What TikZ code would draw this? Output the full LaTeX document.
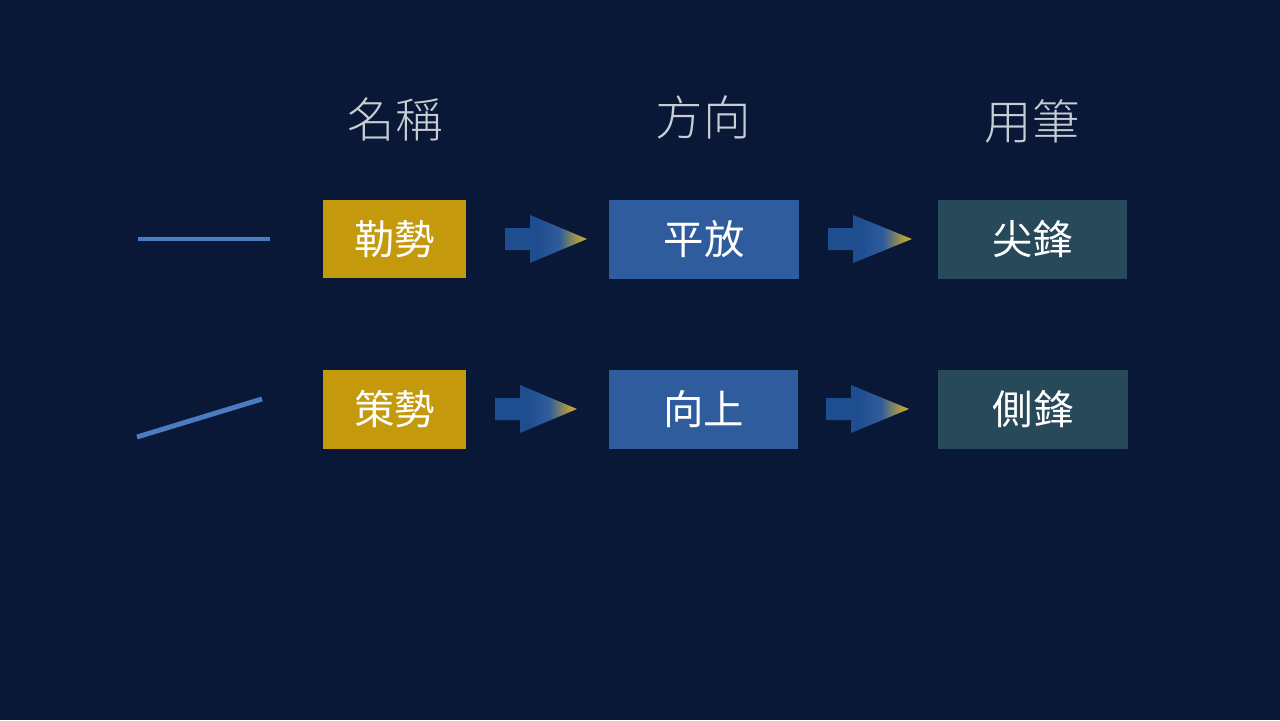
\documentclass[tikz,border=0pt]{standalone}
\usepackage{fontspec}
\newfontfamily\cjk{Noto Sans CJK TC}
\newfontfamily\cjkl{Noto Sans CJK TC Light}
\definecolor{bg}{HTML}{0A1838}
\definecolor{gold}{HTML}{C49A0C}
\definecolor{goldb}{HTML}{E8B818}
\definecolor{bluebox}{HTML}{2F5C9C}
\definecolor{arrblue}{HTML}{1F4E90}
\definecolor{teal}{HTML}{28495A}
\definecolor{lineblue}{HTML}{4A7CC0}
\definecolor{hdr}{HTML}{C8CCD4}
\pgfdeclarehorizontalshading{arrshade}{100bp}{color(0bp)=(arrblue); color(25bp)=(arrblue); color(45bp)=(arrblue); color(58bp)=(bluebox); color(70bp)=(goldb!70!bluebox); color(80bp)=(goldb); color(100bp)=(goldb)}
\begin{document}
\begin{tikzpicture}[x=0.02cm,y=-0.02cm,
  hd/.style={text=hdr,font=\cjkl\fontsize{27}{32}\selectfont},
  bx/.style={text=white,font=\cjk\fontsize{23}{27}\selectfont,inner sep=0pt},
  ln/.style={lineblue,line width=2.8pt}]
\fill[bg] (0,0) rectangle (1280,720);
\node[hd] (h1) at (395,119) {名稱};
\node[hd] (h2) at (703,117) {方向};
\node[hd] (h3) at (1032,121) {用筆};
\fill[gold] (323,200) rectangle (466,278); \node[bx] (a1) at (394.5,239) {勒勢};
\fill[bluebox] (609,200) rectangle (799,279); \node[bx] (b1) at (704,239) {平放};
\fill[teal] (938,200) rectangle (1127,279); \node[bx] (c1) at (1032.5,239) {尖鋒};
\fill[gold] (323,370) rectangle (466,449); \node[bx] (a2) at (394.5,409) {策勢};
\fill[bluebox] (609,370) rectangle (798,449); \node[bx] (b2) at (703.5,409) {向上};
\fill[teal] (938,370) rectangle (1128,449); \node[bx] (c2) at (1033,409) {側鋒};
\newcommand\arr[3]{\shade[shading=arrshade] (#1,#3-11) -- (#1+25,#3-11) -- (#1+25,#3-24) -- (#2,#3) -- (#1+25,#3+24) -- (#1+25,#3+11) -- (#1,#3+11) -- cycle;}
\arr{505}{587}{239}
\arr{828}{912}{239}
\arr{495}{577}{409}
\arr{826}{909}{409}
\coordinate (l1a) at (138,239); \coordinate (l1b) at (270,239);
\coordinate (l2a) at (137,437); \coordinate (l2b) at (262,399);
\draw[ln] (l1a) -- (l1b);
\draw[ln] (l2a) -- (l2b);
\end{tikzpicture}
\end{document}
